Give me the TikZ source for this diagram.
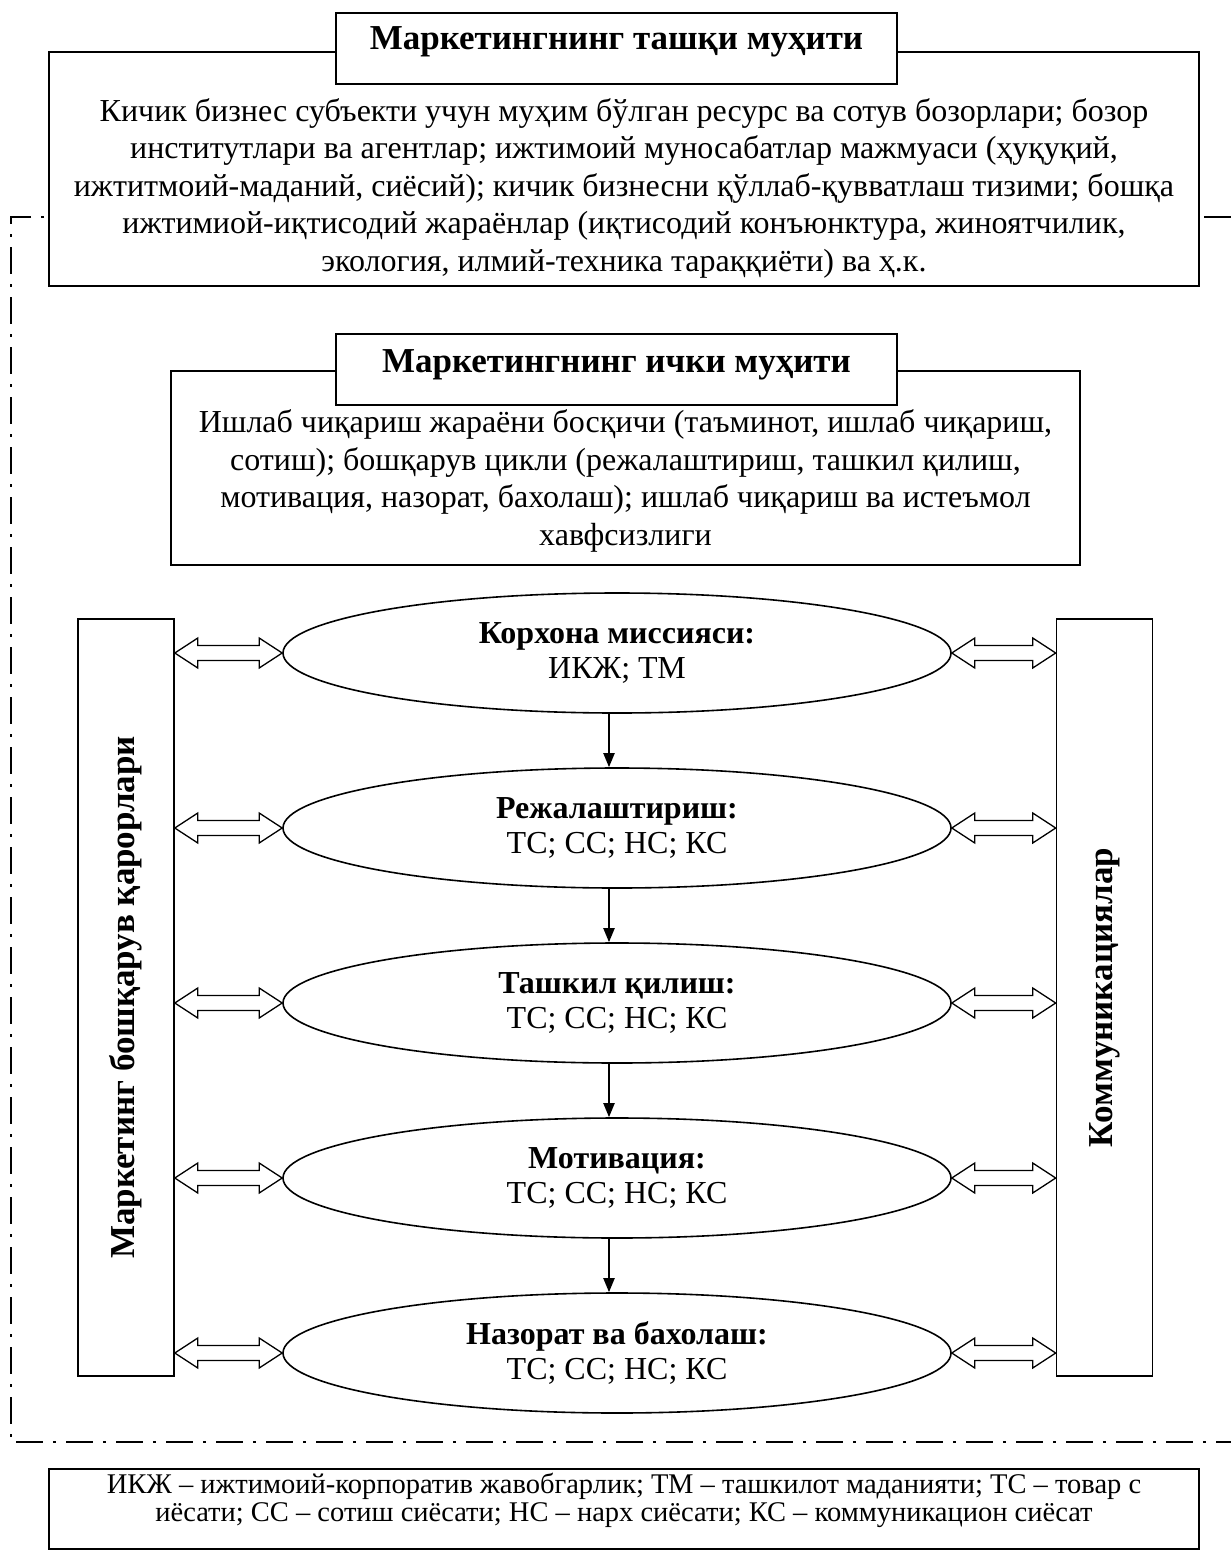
\documentclass[tikz,border=0pt]{standalone}
\usepackage{fontspec}
\setmainfont{Liberation Serif}
\usepackage{graphicx}
\usetikzlibrary{shapes.geometric,arrows.meta,calc}
\newcommand\dblarrow[2]{%
  \path[dbl] let \p1=#1, \p2=#2 in
   (\x1,\y1) -- ++(23pt,15pt) -- ++(0pt,-7.5pt) -- (\x2-23pt,\y1+7.5pt) -- ++(0pt,7.5pt)
   -- (\x2,\y1) -- ++(-23pt,-15pt) -- ++(0pt,7.5pt) -- (\x1+23pt,\y1-7.5pt) -- ++(0pt,-7.5pt) -- cycle;}
\begin{document}
\begin{tikzpicture}[x=1pt,y=-1pt,
  box/.style={draw, line width=1.6pt, fill=white, inner sep=0pt},
  ttl/.style={box, minimum width=561pt, minimum height=71pt, font=\fontsize{35}{40}\selectfont\bfseries},
  body/.style={align=center, font=\fontsize{32}{37.5}\selectfont, inner sep=0pt},
  ell/.style={ellipse, draw, line width=1.6pt, minimum width=668pt, minimum height=120pt, inner sep=0pt, align=center, font=\fontsize{32}{35}\selectfont},
  side/.style={box, minimum width=96pt, minimum height=757pt, font=\fontsize{35}{40}\selectfont\bfseries},
  dbl/.style={draw, line width=1.3pt, fill=white, line join=miter},
  varrow/.style={line width=2pt, -{Triangle[length=14pt,width=11pt]}},
  dashdot/.style={line width=2.5pt, dash pattern=on 27pt off 10pt on 3pt off 10pt},
  legendtext/.style={align=center, font=\fontsize{28.5}{28}\selectfont, inner sep=0pt}
]
\useasboundingbox (0,0) rectangle (1231,1550);
\coordinate (f1) at (1231,217);
\coordinate (f2) at (11,217);
\coordinate (f3) at (11,1442);
\coordinate (f4) at (1231,1442);
\draw[dashdot] (f1) -- (f2) -- (f3) -- (f4);

% outer environment
\node[box, minimum width=1150pt, minimum height=234pt] (outer) at (624,169) {};
\node[ttl, text height=21pt, text depth=20pt] (ttlout) at (616.5,48.5) {Маркетингнинг ташқи муҳити};
\node[body] (outtext) at (624,188) {Кичик бизнес субъекти учун муҳим бўлган ресурс ва сотув бозорлари; бозор\\
институтлари ва агентлар; ижтимоий муносабатлар мажмуаси (ҳуқуқий,\\
ижтитмоий-маданий, сиёсий); кичик бизнесни қўллаб-қувватлаш тизими; бошқа\\
ижтимиой-иқтисодий жараёнлар (иқтисодий конъюнктура, жиноятчилик,\\
экология, илмий-техника тараққиёти) ва ҳ.к.};

% inner environment
\node[box, minimum width=909pt, minimum height=194pt] (inner) at (625.5,468) {};
\node[ttl, text height=21pt, text depth=15pt] (ttlin) at (616.5,369.5) {Маркетингнинг ички муҳити};
\node[body] (intext) at (625.5,481) {Ишлаб чиқариш жараёни босқичи (таъминот, ишлаб чиқариш,\\
сотиш); бошқарув цикли (режалаштириш, ташкил қилиш,\\
мотивация, назорат, бахолаш); ишлаб чиқариш ва истеъмол\\
хавфсизлиги};

% side boxes
\node[side] (LB) at (126,997.5) {\raisebox{-8pt}{\rotatebox{90}{Маркетинг бошқарув қарорлари}}};
\node[side] (RB) at (1104.5,997.5) {\raisebox{-8pt}{\rotatebox{90}{Коммуникациялар}}};

% ellipses
\node[ell] (E1) at (617,653) {\textbf{Корхона миссияси:}\\ИКЖ; ТМ};
\node[ell] (E2) at (617,828) {\textbf{Режалаштириш:}\\ТС; СС; НС; КС};
\node[ell] (E3) at (617,1003) {\textbf{Ташкил қилиш:}\\ТС; СС; НС; КС};
\node[ell] (E4) at (617,1178) {\textbf{Мотивация:}\\ТС; СС; НС; КС};
\node[ell] (E5) at (617,1353) {\textbf{Назорат ва бахолаш:}\\ТС; СС; НС; КС};

% vertical arrows
\draw[varrow] ([xshift=-8pt]E1.south) -- ([xshift=-8pt]E2.north);
\draw[varrow] ([xshift=-8pt]E2.south) -- ([xshift=-8pt]E3.north);
\draw[varrow] ([xshift=-8pt]E3.south) -- ([xshift=-8pt]E4.north);
\draw[varrow] ([xshift=-8pt]E4.south) -- ([xshift=-8pt]E5.north);

% double arrows
\foreach \e in {E1,E2,E3,E4,E5}{
  \dblarrow{(LB.east |- \e.west)}{(\e.west)}
  \dblarrow{(\e.east)}{(RB.west |- \e.east)}
}

% legend
\node[box, minimum width=1150pt, minimum height=80pt] (legend) at (624,1509) {};
\node[legendtext] (legendtxt) at (624,1500) {ИКЖ – ижтимоий-корпоратив жавобгарлик; ТМ – ташкилот маданияти; ТС – товар с\\
иёсати; СС – сотиш сиёсати; НС – нарх сиёсати; КС – коммуникацион сиёсат};
\end{tikzpicture}
\end{document}
